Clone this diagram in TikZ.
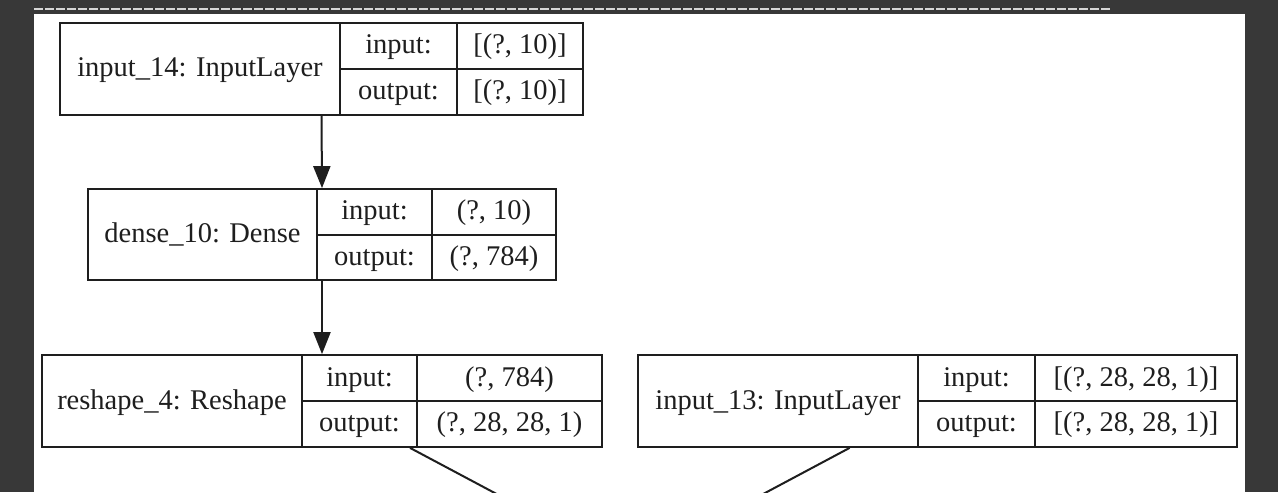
\documentclass[tikz,border=0pt]{standalone}
\usepackage{fontspec}
\setmainfont{Liberation Serif}
\usetikzlibrary{arrows.meta,fit}
\definecolor{bgdark}{HTML}{383838}
\definecolor{dashgray}{HTML}{D6D6D6}
\definecolor{ink}{HTML}{1E1E1E}
\begin{document}
\begin{tikzpicture}[x=0.5pt,y=-0.5pt,
  layerbox/.style={draw=ink,line width=0.9pt,inner sep=0pt,fit={#1}},
  cellline/.style={draw=ink,line width=0.9pt},
  txt/.style={inner sep=0pt,anchor=base,font=\fontsize{14.25}{16}\selectfont,text=ink},
  flow/.style={draw=ink,line width=1pt,-{Triangle[length=11pt,width=8.5pt]}},
  plainedge/.style={draw=ink,line width=1pt}]
\useasboundingbox (0,0) rectangle (1278,492);
\fill[bgdark] (0,0) rectangle (1278,492);
\fill[white] (34,14) rectangle (1245,492);
\draw[dashgray,line width=0.9pt,dash pattern=on 4.5pt off 1pt] (34,9) -- (1111,9);

% box 1: input_14
\node[layerbox={(60,23)(583,115)}] (b1) {};
\draw[cellline] (340,23) -- (340,115) (457,23) -- (457,115) (340,69) -- (583,69);
\node[txt] (b1name) at (200,77) {input\_14: InputLayer};
\node[txt] (b1in) at (398.5,54) {input:};
\node[txt] (b1out) at (398.5,99.5) {output:};
\node[txt] (b1inv) at (520,54) {[(?, 10)]};
\node[txt] (b1outv) at (520,99.5) {[(?, 10)]};

% box 2: dense_10
\node[layerbox={(88,189)(556,280)}] (b2) {};
\draw[cellline] (317,189) -- (317,280) (432,189) -- (432,280) (317,235) -- (556,235);
\node[txt] (b2name) at (202.5,242.5) {dense\_10: Dense};
\node[txt] (b2in) at (374.5,219.5) {input:};
\node[txt] (b2out) at (374.5,265) {output:};
\node[txt] (b2inv) at (494,219.5) {(?, 10)};
\node[txt] (b2outv) at (494,265) {(?, 784)};

% box 3: reshape_4
\node[layerbox={(42,355)(602,447)}] (b3) {};
\draw[cellline] (302,355) -- (302,447) (417,355) -- (417,447) (302,401) -- (602,401);
\node[txt] (b3name) at (172,409) {reshape\_4: Reshape};
\node[txt] (b3in) at (359.5,386) {input:};
\node[txt] (b3out) at (359.5,431.5) {output:};
\node[txt] (b3inv) at (509.5,386) {(?, 784)};
\node[txt] (b3outv) at (509.5,431.5) {(?, 28, 28, 1)};

% box 4: input_13
\node[layerbox={(638,355)(1237,447)}] (b4) {};
\draw[cellline] (918,355) -- (918,447) (1035,355) -- (1035,447) (918,401) -- (1237,401);
\node[txt] (b4name) at (778,409) {input\_13: InputLayer};
\node[txt] (b4in) at (976.5,386) {input:};
\node[txt] (b4out) at (976.5,431.5) {output:};
\node[txt] (b4inv) at (1136,386) {[(?, 28, 28, 1)]};
\node[txt] (b4outv) at (1136,431.5) {[(?, 28, 28, 1)]};

% connectors
\draw[flow] (b1.south) -- (b2.north);
\draw[flow] (b2.south) -- (b3.north);
\coordinate (cat) at (630,565);
\begin{scope}
\clip (34,14) rectangle (1245,492);
\draw[plainedge] (b3) -- (cat);
\draw[plainedge] (b4) -- (cat);
\end{scope}
\end{tikzpicture}
\end{document}
